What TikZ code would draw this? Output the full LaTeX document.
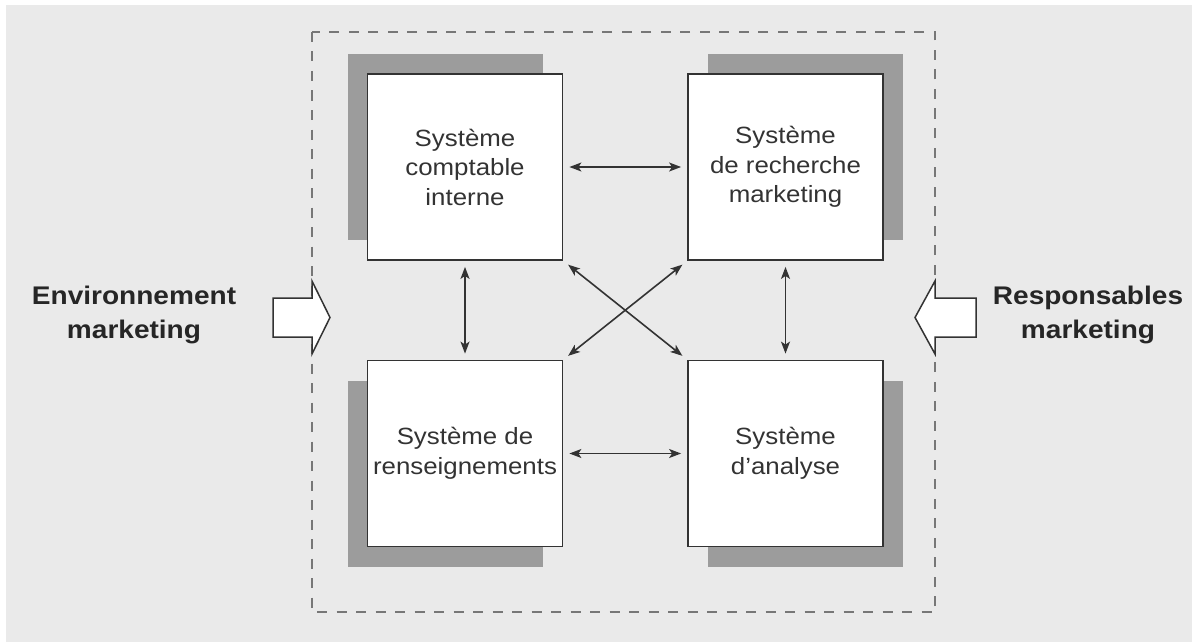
\documentclass[tikz,border=0pt]{standalone}
\usepackage{fontspec}
\setmainfont{Liberation Sans}
\newfontfamily\widesans[FakeStretch=1.1]{Liberation Sans}
\usetikzlibrary{shadows,arrows.meta}
\definecolor{bggray}{HTML}{EAEAEA}
\definecolor{shadegray}{HTML}{9C9C9C}
\definecolor{dashgray}{HTML}{777777}
\definecolor{inkgray}{HTML}{333333}

\begin{document}
\begin{tikzpicture}[x=1pt,y=-1pt,
  sysbox/.style={draw=inkgray, line width=1.8pt, fill=white,
    minimum width=195pt, minimum height=186pt, inner sep=0pt,
    align=center, text=inkgray,
    font=\widesans\fontsize{23.5}{29.5}\selectfont},
  link/.style={{Stealth[length=12pt,width=9pt,inset=3pt]}-{Stealth[length=12pt,width=9pt,inset=3pt]},
    line width=1.6pt, draw=inkgray, shorten <=6pt, shorten >=6pt},
  sidelabel/.style={align=center, text=black!85,
    font=\widesans\bfseries\fontsize{25.5}{34}\selectfont},
  hollow/.style={draw=inkgray, line width=1.5pt, fill=white, line join=miter},
  frame/.style={draw=dashgray, line width=2.2pt, dash pattern=on 10pt off 9.5pt}
]
% page and background
\useasboundingbox (0,0) rectangle (1192,642);
\fill[white] (0,0) rectangle (1192,642);
\fill[bggray] (6,5) rectangle (1192,642);

% dashed system frame
\draw[frame] (312,32) rectangle (935,612);

% the four subsystems, each with an offset shadow
\node[sysbox, general shadow={fill=shadegray, shadow xshift=-20pt, shadow yshift=20pt}]
  (b1) at (465,167) {Système\\comptable\\interne};
\node[sysbox, general shadow={fill=shadegray, shadow xshift=20pt, shadow yshift=20pt}]
  (b2) at (785.5,167) {Système\\de recherche\\marketing};
\node[sysbox, general shadow={fill=shadegray, shadow xshift=-20pt, shadow yshift=-20pt}]
  (b3) at (465,453.5) {Système de\\renseignements};
\node[sysbox, general shadow={fill=shadegray, shadow xshift=20pt, shadow yshift=-20pt}]
  (b4) at (785.5,453.5) {Système\\d’analyse};

% two-way links between subsystems
\draw[link] (b1) -- (b2);
\draw[link] (b3) -- (b4);
\draw[link] (b1) -- (b3);
\draw[link] (b2) -- (b4);
\draw[link] (b1.south east) -- (b4.north west);
\draw[link] (b2.south west) -- (b3.north east);

% inputs from outside
\draw[hollow] (273,298) -- (312,298) -- (312,281) -- (330,317.5) -- (312,354)
  -- (312,337) -- (273,337) -- cycle;
\draw[hollow] (976,298) -- (935,298) -- (935,281) -- (915,317.5) -- (935,354)
  -- (935,337) -- (976,337) -- cycle;

\node[sidelabel] (env) at (134,315) {Environnement\\marketing};
\node[sidelabel] (resp) at (1088,315) {Responsables\\marketing};
\end{tikzpicture}
\end{document}
